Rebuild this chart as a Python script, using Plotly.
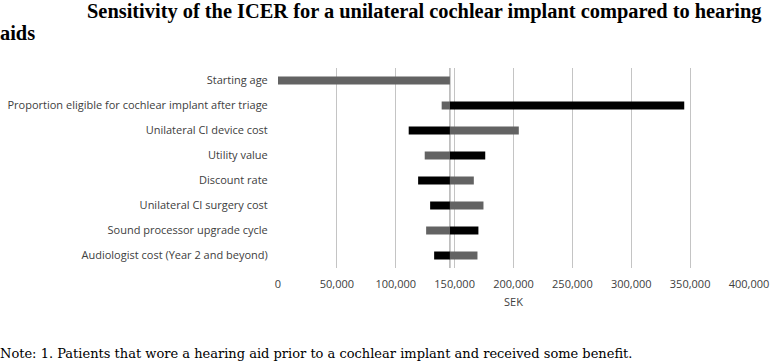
import plotly.graph_objects as go

categories = [
    "Starting age",
    "Proportion eligible for cochlear implant after triage",
    "Unilateral CI device cost",
    "Utility value",
    "Discount rate",
    "Unilateral CI surgery cost",
    "Sound processor upgrade cycle",
    "Audiologist cost (Year 2 and beyond)",
]
base_icer = 146000
gray_values = [0, 139000, 204500, 124600, 166300, 174500, 125800, 169400]
black_values = [146000, 345000, 111000, 176000, 119000, 129200, 170200, 132600]
x_ticks = [0, 50000, 100000, 150000, 200000, 250000, 300000, 350000, 400000]

title_line1 = "Sensitivity of the ICER for a unilateral cochlear implant compared to hearing"
title_line2 = "aids"
note_text = "Note: 1. Patients that wore a hearing aid prior to a cochlear implant and received some benefit."

fig = go.Figure()
fig.add_trace(go.Bar(
    y=categories, x=[v - base_icer for v in gray_values], base=base_icer,
    orientation="h", marker=dict(color="#636363", line=dict(width=0)),
    width=0.32, showlegend=False,
))
fig.add_trace(go.Bar(
    y=categories, x=[v - base_icer for v in black_values], base=base_icer,
    orientation="h", marker=dict(color="#000000", line=dict(width=0)),
    width=0.32, showlegend=False,
))

L, R, T, B = 278, 29, 68, 95
W, H = 778, 363
pw = W - L - R
ph = H - T - B

def px_x(px):
    return (px - L) / pw

def px_y(py):
    return 1 - (py - T) / ph

fig.add_shape(type="line", xref="x", yref="paper", x0=base_icer, x1=base_icer,
              y0=0, y1=1, line=dict(color="#a6a6a6", width=1.3), layer="below")

fig.update_layout(
    width=W, height=H,
    margin=dict(l=L, r=R, t=T, b=B, pad=0),
    plot_bgcolor="white", paper_bgcolor="white",
    barmode="overlay",
    font=dict(family="Open Sans, Liberation Sans, sans-serif", size=11, color="#404040"),
    xaxis=dict(
        range=[0, 400000], tickvals=x_ticks, tickformat=",",
        showgrid=True, gridcolor="#c4c4c4", gridwidth=1.3,
        zeroline=False, showline=False, automargin=False,
        ticks="outside", ticklen=6, tickcolor="rgba(0,0,0,0)",
        title=dict(text="SEK", standoff=8, font=dict(size=11, color="#404040")),
        tickfont=dict(size=11, color="#404040"),
    ),
    yaxis=dict(
        autorange="reversed", showgrid=False, zeroline=False, showline=False,
        automargin=False,
        ticks="outside", ticklen=7, tickcolor="rgba(0,0,0,0)",
        tickfont=dict(size=11, color="#404040"),
    ),
    annotations=[
        dict(text="<b>" + title_line1 + "</b>", xref="paper", yref="paper",
             x=px_x(85), y=px_y(11), xanchor="left", yanchor="middle", showarrow=False,
             font=dict(family="Liberation Serif, Times New Roman, serif", size=20.4, color="#000000")),
        dict(text="<b>" + title_line2 + "</b>", xref="paper", yref="paper",
             x=px_x(-2), y=px_y(33), xanchor="left", yanchor="middle", showarrow=False,
             font=dict(family="Liberation Serif, Times New Roman, serif", size=20.4, color="#000000")),
        dict(text=note_text, xref="paper", yref="paper",
             x=px_x(-2), y=px_y(353), xanchor="left", yanchor="middle", showarrow=False,
             font=dict(family="DejaVu Serif, Liberation Serif, serif", size=13, color="#000000")),
    ],
)

fig.write_html("out.html", config={"displayModeBar": False},
               post_script="document.body.style.margin='0';document.body.style.overflow='hidden';")
